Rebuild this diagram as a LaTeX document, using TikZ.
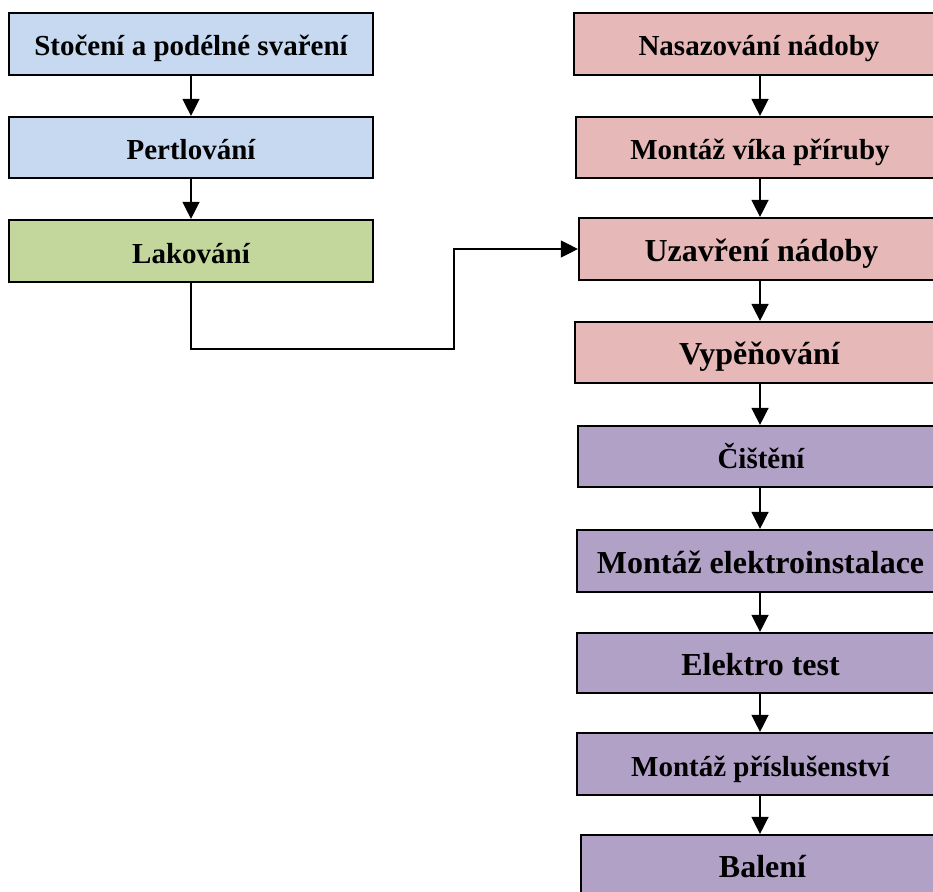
\documentclass[tikz,border=0pt]{standalone}
\usepackage{fontspec}
\setmainfont{Liberation Serif}
\usetikzlibrary{arrows.meta}
\definecolor{cblue}{HTML}{C6D9F1}
\definecolor{cgreen}{HTML}{C3D69B}
\definecolor{cpink}{HTML}{E6B9B8}
\definecolor{cpurple}{HTML}{B2A1C7}
\tikzset{
  box/.style={draw=black, line width=2.2pt, rectangle, inner sep=0pt, align=center, text height=25pt, text depth=1pt, font=\bfseries\fontsize{29}{34}\selectfont},
  big/.style={font=\bfseries\fontsize{32}{38}\selectfont},
  arr/.style={line width=1.4pt, -{Triangle[length=17pt,width=17pt]}},
  conn/.style={line width=1.3pt, -{Triangle[length=17pt,width=17pt]}}
}
\begin{document}
\begin{tikzpicture}[x=1pt,y=-1pt]
\useasboundingbox (0,0) rectangle (933,891);
\clip (0,0) rectangle (933,891);
% left column
\node[box, fill=cblue, minimum width=364pt, minimum height=62pt] (L1) at (191,44) {Stočení a podélné svaření};
\node[box, fill=cblue, minimum width=364pt, minimum height=61pt] (L2) at (191,147.5) {Pertlování};
\node[box, fill=cgreen, minimum width=364pt, minimum height=62pt] (L3) at (191,251) {Lakování};
% right column
\node[box, fill=cpink, minimum width=370pt, minimum height=62pt] (R1) at (759,44) {Nasazování nádoby};
\node[box, fill=cpink, minimum width=368pt, minimum height=61pt] (R2) at (760,147.5) {Montáž víka příruby};
\node[box, big, fill=cpink, minimum width=365pt, minimum height=62pt] (R3) at (761.5,249) {Uzavření nádoby};
\node[box, big, fill=cpink, minimum width=369pt, minimum height=61pt] (R4) at (759.5,352.5) {Vypěňování};
\node[box, fill=cpurple, minimum width=366pt, minimum height=61pt] (R5) at (761,456.5) {Čištění};
\node[box, big, fill=cpurple, minimum width=367pt, minimum height=62pt] (R6) at (760.5,561) {Montáž elektroinstalace};
\node[box, big, fill=cpurple, minimum width=367pt, minimum height=60pt] (R7) at (760.5,663) {Elektro test};
\node[box, fill=cpurple, minimum width=367pt, minimum height=62pt] (R8) at (760.5,764) {Montáž příslušenství};
\node[box, big, fill=cpurple, minimum width=363pt, minimum height=60pt] (R9) at (762.5,865) {Balení};
% arrows left
\draw[arr] (L1.south) -- (L1.south |- L2.north);
\draw[arr] (L2.south) -- (L2.south |- L3.north);
% arrows right
\coordinate (rx) at (760,0);
\draw[arr] (rx |- R1.south) -- (rx |- R2.north);
\draw[arr] (rx |- R2.south) -- (rx |- R3.north);
\draw[arr] (rx |- R3.south) -- (rx |- R4.north);
\draw[arr] (rx |- R4.south) -- (rx |- R5.north);
\draw[arr] (rx |- R5.south) -- (rx |- R6.north);
\draw[arr] (rx |- R6.south) -- (rx |- R7.north);
\draw[arr] (rx |- R7.south) -- (rx |- R8.north);
\draw[arr] (rx |- R8.south) -- (rx |- R9.north);
% connector
\coordinate (m) at (454,349);
\draw[conn] (L3.south) |- (m) |- (R3.west);
\end{tikzpicture}
\end{document}
